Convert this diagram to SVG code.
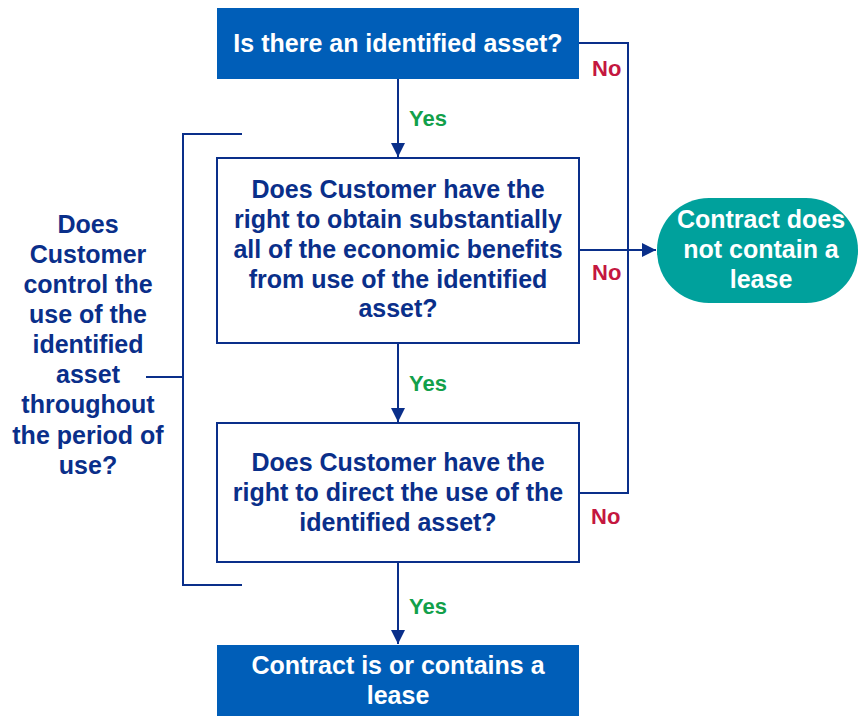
<svg xmlns="http://www.w3.org/2000/svg" width="859" height="716" viewBox="0 0 859 716">
<defs>
<marker id="arr" markerWidth="14" markerHeight="14" refX="10" refY="5" orient="auto" markerUnits="userSpaceOnUse" viewBox="0 0 10 10">
<path d="M0,0 L10,5 L0,10 z" fill="#0a2f8a"/>
</marker>
<style>
text{font-family:"Liberation Sans",Arial,sans-serif;font-weight:bold;text-anchor:middle}
.q{font-size:25px;fill:#0a2f8a}
.w{font-size:25px;fill:#ffffff}
.yes{font-size:22px;fill:#12a04a;text-anchor:start}
.no{font-size:22px;fill:#c4173f;text-anchor:start}
.ln{fill:none;stroke:#0a2f8a;stroke-width:2}
.box{fill:#ffffff;stroke:#0a2f8a;stroke-width:2}
.solid{fill:#005eb8}
</style>
</defs>
<rect width="859" height="716" fill="#ffffff"/>
<g id="connectors">
<path class="ln" d="M398,79 V157" marker-end="url(#arr)"/>
<path class="ln" d="M398,343 V422" marker-end="url(#arr)"/>
<path class="ln" d="M398,562 V644" marker-end="url(#arr)"/>
<path class="ln" d="M579,43 H628 V493 H579"/>
<path class="ln" d="M579,250 H656" marker-end="url(#arr)"/>
<path class="ln" d="M242,134 H183 V585 H242 M146,377 H183"/>
</g>
<g id="labels">
<text class="yes" x="409" y="126">Yes</text>
<text class="yes" x="409" y="391">Yes</text>
<text class="yes" x="409" y="614">Yes</text>
<text class="no" x="592" y="76">No</text>
<text class="no" x="592" y="280">No</text>
<text class="no" x="591" y="524">No</text>
</g>
<g id="n1">
<rect class="solid" x="217" y="8" width="362" height="71"/>
<text class="w" x="398" y="52">Is there an identified asset?</text>
</g>
<g id="n2">
<rect class="box" x="217" y="158" width="362" height="185"/>
<text class="q" x="398" y="198">Does Customer have the</text>
<text class="q" x="398" y="228">right to obtain substantially</text>
<text class="q" x="398" y="258">all of the economic benefits</text>
<text class="q" x="398" y="288">from use of the identified</text>
<text class="q" x="398" y="317">asset?</text>
</g>
<g id="n3">
<rect class="box" x="217" y="423" width="362" height="139"/>
<text class="q" x="398" y="471">Does Customer have the</text>
<text class="q" x="398" y="501">right to direct the use of the</text>
<text class="q" x="398" y="531">identified asset?</text>
</g>
<g id="n4">
<rect class="solid" x="217" y="645" width="362" height="71"/>
<text class="w" x="398" y="674">Contract is or contains a</text>
<text class="w" x="398" y="704">lease</text>
</g>
<g id="n5">
<rect x="657" y="198" width="201" height="105" rx="52" ry="52" fill="#00a19c"/>
<text class="w" x="761" y="228">Contract does</text>
<text class="w" x="761" y="258">not contain a</text>
<text class="w" x="761" y="288">lease</text>
</g>
<g id="n6">
<text class="q" x="88" y="233">Does</text>
<text class="q" x="88" y="263">Customer</text>
<text class="q" x="88" y="293">control the</text>
<text class="q" x="88" y="323">use of the</text>
<text class="q" x="88" y="353">identified</text>
<text class="q" x="88" y="383">asset</text>
<text class="q" x="88" y="413">throughout</text>
<text class="q" x="88" y="444">the period of</text>
<text class="q" x="88" y="474">use?</text>
</g>
</svg>
